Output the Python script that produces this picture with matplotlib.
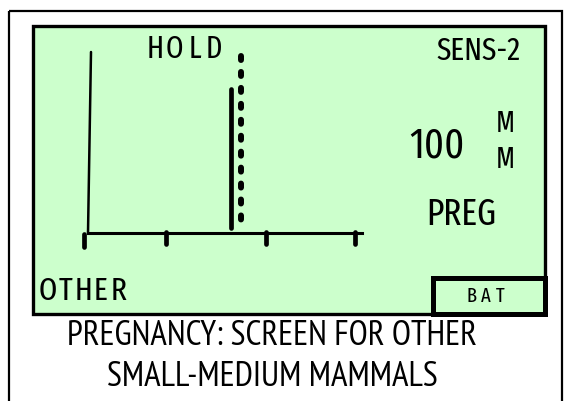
import matplotlib
matplotlib.use("Agg")
import matplotlib.pyplot as plt
from matplotlib.patches import Rectangle

# LCD labels are condensed, caption is a narrow humanist face
LCD = ["Fira Sans Extra Condensed", "Sofia Sans Extra Condensed", "DejaVu Sans"]
CAP = ["PT Sans Narrow", "Fira Sans Extra Condensed", "DejaVu Sans"]

# display trace (screen pixels of the 564x401 drawing)
trace_x = [91, 88]
trace_y = [52, 233]
axis_x = [88, 362]
axis_y = [233, 233]
tick_x = [84, 166, 266, 355]
tick_top = [234, 232, 232, 232]
tick_bottom = [247, 244, 244, 244]
solid_x = [231, 231]
solid_y = [89, 228]
dotted_x = [241, 241]
dotted_y = [56, 228]

# labels
top_left = "HOLD"
top_right = "SENS-2"
reading = "100"
unit = ["M", "M"]
mode = "PREG"
species = "OTHER"
battery = "BAT"
caption = ["PREGNANCY: SCREEN FOR OTHER", "SMALL-MEDIUM MAMMALS"]

GREEN = "#ccffcc"


def spaced(ax, word, x0, step, y, size):
    # letter-spaced LCD words, one glyph at a time
    for i, ch in enumerate(word):
        ax.text(x0 + i * step, y, ch, fontsize=size, family=LCD,
                ha="center", va="baseline", color="black")


fig = plt.figure(figsize=(5.64, 4.01), dpi=100)
ax = fig.add_axes([0, 0, 1, 1])
ax.set_xlim(0, 564)
ax.set_ylim(401, 0)
ax.axis("off")

# outer frame and screen
ax.add_patch(Rectangle((9, 11), 553, 420, fill=False, lw=1.6, ec="black"))
ax.add_patch(Rectangle((33, 26), 512, 288, fc=GREEN, lw=2.4, ec="black"))
ax.add_patch(Rectangle((433, 278), 112, 36, fc=GREEN, lw=3.6, ec="black"))

# graph
ax.plot(trace_x, trace_y, color="black", lw=1.8, solid_capstyle="round")
ax.plot(axis_x, axis_y, color="black", lw=2.2)
for x, t, b in zip(tick_x, tick_top, tick_bottom):
    ax.plot([x, x], [t, b], color="black", lw=3.4, solid_capstyle="round")
ax.plot(solid_x, solid_y, color="black", lw=3.4, solid_capstyle="round")
ax.plot(dotted_x, dotted_y, color="black", lw=4.3, linestyle=(0, (0.67, 2.0)),
        dash_capstyle="round")

spaced(ax, top_left, 155, 19.7, 58, 22)
spaced(ax, species, 48, 17.6, 300, 23)
spaced(ax, battery, 471, 14.8, 302, 14.5)

lcd = dict(family=LCD, color="black", va="baseline")
ax.text(521, 60, top_right, fontsize=23, ha="right", **lcd)
ax.text(437, 157, reading, fontsize=30, ha="center", **lcd)
ax.text(505, 132, unit[0], fontsize=21, ha="center", **lcd)
ax.text(505, 168, unit[1], fontsize=21, ha="center", **lcd)
ax.text(461, 225, mode, fontsize=26, ha="center", **lcd)

cap = dict(family=CAP, color="black", ha="center", va="baseline")
ax.text(272, 345, caption[0], fontsize=25, **cap)
ax.text(272, 386, caption[1], fontsize=25, **cap)

fig.savefig("out.png", dpi=100)
